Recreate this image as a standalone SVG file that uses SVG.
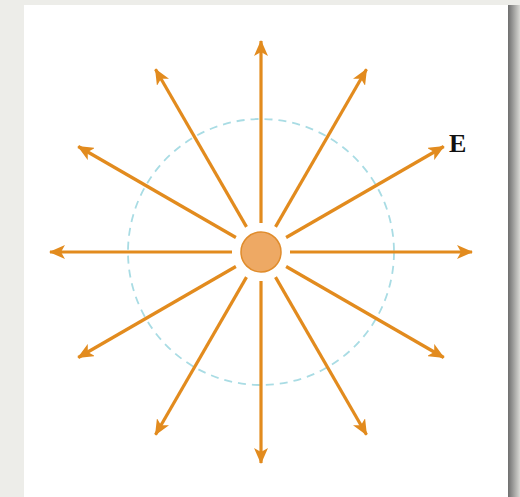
<svg xmlns="http://www.w3.org/2000/svg" width="520" height="497" viewBox="0 0 520 497">
<defs>
<linearGradient id="shadow" x1="0" y1="0" x2="1" y2="0">
<stop offset="0" stop-color="#6e6e6e"/>
<stop offset="1" stop-color="#d8d8d4"/>
</linearGradient>
<marker id="ah" viewBox="0 0 16 14" refX="15" refY="7" markerWidth="16" markerHeight="14" markerUnits="userSpaceOnUse" orient="auto">
<path d="M0,0 L16,7 L0,14 L4,7 Z" fill="#E28B1E"/>
</marker>
<style>
.ray{stroke:#E28B1E;stroke-width:3.2;fill:none;marker-end:url(#ah)}
.field{fill:none;stroke:#A9DCE4;stroke-width:1.8;stroke-dasharray:8 6}
.lbl{font-family:"Liberation Serif",serif;font-weight:bold;font-size:26px;fill:#111}
</style>
</defs>
<rect width="520" height="497" fill="#EDEDE9"/>
<rect x="508" y="5" width="12" height="492" fill="url(#shadow)"/>
<rect x="24" y="5" width="484" height="492" fill="#ffffff"/>
<g id="field-circle">
<circle class="field" cx="261" cy="252" r="133"/>
</g>
<g id="connectors" transform="translate(261,252)">
<line class="ray" x1="29" y1="0" x2="211" y2="0"/>
<line class="ray" x1="29" y1="0" x2="211" y2="0" transform="rotate(30)"/>
<line class="ray" x1="29" y1="0" x2="211" y2="0" transform="rotate(60)"/>
<line class="ray" x1="29" y1="0" x2="211" y2="0" transform="rotate(90)"/>
<line class="ray" x1="29" y1="0" x2="211" y2="0" transform="rotate(120)"/>
<line class="ray" x1="29" y1="0" x2="211" y2="0" transform="rotate(150)"/>
<line class="ray" x1="29" y1="0" x2="211" y2="0" transform="rotate(180)"/>
<line class="ray" x1="29" y1="0" x2="211" y2="0" transform="rotate(210)"/>
<line class="ray" x1="29" y1="0" x2="211" y2="0" transform="rotate(240)"/>
<line class="ray" x1="29" y1="0" x2="211" y2="0" transform="rotate(270)"/>
<line class="ray" x1="29" y1="0" x2="211" y2="0" transform="rotate(300)"/>
<line class="ray" x1="29" y1="0" x2="211" y2="0" transform="rotate(330)"/>
</g>
<g id="charge">
<circle cx="261" cy="252" r="20" fill="#EEA964" stroke="#E08C2C" stroke-width="1.5"/>
</g>
<g id="label-E">
<text class="lbl" x="449" y="152">E</text>
</g>
</svg>
